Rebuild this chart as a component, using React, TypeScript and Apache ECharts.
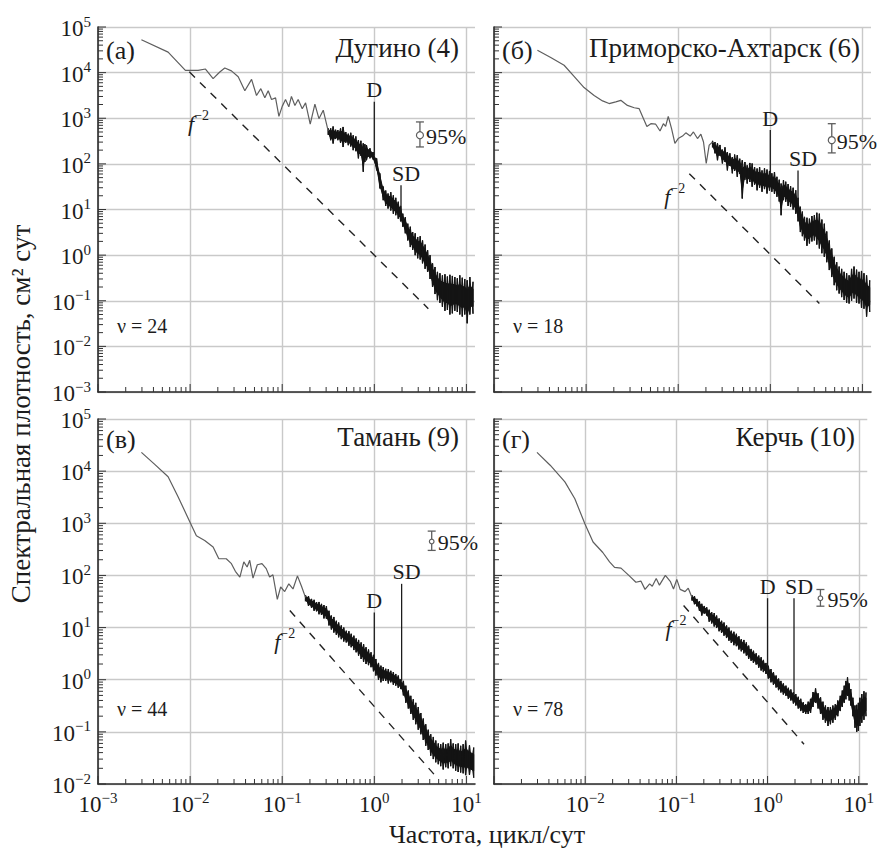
import React, { useEffect, useRef } from 'react';
import * as echarts from 'echarts';

const FONT = 'Liberation Serif, serif';
const INK = '#1c1c1c';
const LINE_GRAY = '#5e5e5e';
const GRID_GRAY = '#c9c9c9';
const BAND_INK = '#141414';

const X_MIN = 0.001;
const X_MAX = 12.4;
const Y_MAX = 1e5;
const Y_MINS = [0.001, 0.001, 0.01, 0.01];

const PANEL_LETTERS = ['(а)', '(б)', '(в)', '(г)'];
const STATIONS = ['Дугино (4)', 'Приморско-Ахтарск (6)', 'Тамань (9)', 'Керчь (10)'];
const DOF = [24, 18, 44, 78];
const PEAK_LABELS = ['D', 'SD'];
const TICK_MULTIPLIERS = [1, 2, 3, 4, 5, 6, 7, 8, 9];
const X_DECADES = [-3, -2, -1, 0, 1];
const Y_DECADES_TOP = [-3, -2, -1, 0, 1, 2, 3, 4, 5];
const Y_DECADES_BOTTOM = [-2, -1, 0, 1, 2, 3, 4, 5];

// ---- (а) Дугино ----
const dugLine = [
  [0.00296, 52500], [0.00577, 28200], [0.00889, 11200], [0.01222, 11200], [0.01469, 12000],
  [0.01778, 7400], [0.021, 10300], [0.0238, 12600], [0.0281, 10900], [0.0333, 8100],
  [0.0393, 4000], [0.0465, 7100], [0.0526, 3160], [0.0586, 4450], [0.0648, 2800],
  [0.0705, 4000], [0.0766, 2570], [0.0847, 2800], [0.0921, 1100], [0.1, 1820],
  [0.1087, 2570], [0.118, 1780], [0.126, 3020], [0.1374, 1910], [0.149, 2570],
  [0.165, 1620], [0.1794, 2170], [0.2015, 740], [0.2265, 2040], [0.2506, 980],
  [0.279, 1500], [0.316, 525],
];
const dugBand = [
  [0.316, 430, 600], [0.336, 330, 600], [0.357, 279, 661], [0.38, 350, 560], [0.402, 331, 550],
  [0.43, 290, 600], [0.458, 234, 646], [0.49, 290, 500], [0.522, 257, 459], [0.555, 240, 480],
  [0.59, 200, 423], [0.63, 190, 400], [0.672, 132, 331], [0.715, 150, 320], [0.759, 67, 282],
  [0.79, 110, 270], [0.822, 120, 257], [0.897, 132, 219], [0.97, 124, 182], [1.06, 72, 132],
  [1.15, 29, 62], [1.25, 16, 32], [1.33, 12, 26], [1.41, 10.5, 22.4], [1.51, 9.5, 24],
  [1.61, 8.1, 20.4], [1.71, 7.5, 18], [1.82, 6.3, 14.8], [1.93, 5.5, 12], [2.04, 4.2, 8.1],
  [2.17, 3.0, 6.8], [2.31, 2.1, 4.9], [2.46, 1.5, 4.2], [2.61, 1.3, 3.2], [2.78, 1.0, 3.0],
  [2.96, 0.85, 2.5], [3.15, 0.8, 2.6], [3.34, 0.66, 2.1], [3.56, 0.5, 1.7], [3.79, 0.43, 1.29],
  [4.03, 0.3, 1.0], [4.29, 0.2, 0.66], [4.56, 0.14, 0.55], [4.85, 0.103, 0.43], [5.16, 0.09, 0.4],
  [5.49, 0.074, 0.36], [5.85, 0.06, 0.38], [6.22, 0.063, 0.34], [6.62, 0.05, 0.37], [7.04, 0.053, 0.35],
  [7.49, 0.06, 0.33], [7.97, 0.057, 0.31], [8.48, 0.05, 0.36], [9.02, 0.045, 0.32], [9.6, 0.05, 0.3],
  [10.2, 0.032, 0.28], [10.9, 0.05, 0.33], [11.8, 0.052, 0.26],
];
const dugPeaks = [[1.0, 150, 2290], [1.95, 9, 34]];
const dugErr = [3.13, 235, 425, 830];
const dugRef = [[0.0098, 10400], [3.86, 0.067]];
const dugFLabel = [0.0095, 830];

// ---- (б) Приморско-Ахтарск ----
const pribLine = [
  [0.00296, 30900], [0.00413, 21400], [0.00577, 14500], [0.0074, 8300], [0.0095, 4700],
  [0.01222, 3160], [0.0151, 2400], [0.01778, 2100], [0.021, 2290], [0.0238, 2470],
  [0.0281, 1910], [0.0333, 1700], [0.0377, 1620], [0.042, 980], [0.0457, 661],
  [0.0505, 760], [0.057, 740], [0.0635, 525], [0.069, 760], [0.073, 661],
  [0.078, 1100], [0.0847, 590], [0.0921, 282], [0.1, 359], [0.1114, 407],
  [0.121, 479], [0.135, 407], [0.1464, 501], [0.162, 359], [0.1763, 447],
  [0.1883, 302], [0.2015, 102], [0.217, 257], [0.236, 302],
];
const pribBand = [
  [0.236, 230, 320], [0.251, 170, 300], [0.267, 120, 282], [0.284, 150, 260], [0.302, 102, 205],
  [0.322, 110, 230], [0.342, 72, 182], [0.364, 90, 170], [0.387, 62, 141], [0.41, 70, 160],
  [0.438, 52, 155], [0.466, 60, 130], [0.496, 17.4, 120], [0.53, 45, 110], [0.561, 37, 93],
  [0.6, 40, 105], [0.635, 31.6, 102], [0.675, 35, 85], [0.719, 26.3, 79], [0.765, 30, 85],
  [0.813, 24.5, 72], [0.865, 28, 80], [0.921, 22.4, 75], [0.98, 26, 70], [1.04, 24.5, 62],
  [1.11, 22, 66], [1.18, 19, 52], [1.25, 15, 45], [1.31, 7.5, 37], [1.39, 16, 44],
  [1.47, 14.8, 40.7], [1.56, 12, 36], [1.66, 11.5, 32.4], [1.77, 10, 30], [1.89, 8.1, 26.3],
  [2.0, 5.5, 18], [2.12, 3.2, 11.5], [2.23, 2.6, 9], [2.35, 2.1, 6.9], [2.5, 1.6, 6.6],
  [2.66, 1.8, 6.3], [2.83, 2.0, 7.2], [3.01, 2.1, 7.5], [3.2, 1.7, 8.5], [3.41, 1.4, 8.1],
  [3.63, 1.1, 6.0], [3.86, 0.92, 4.9], [4.1, 0.7, 3.3], [4.37, 0.47, 2.1], [4.65, 0.33, 1.4],
  [4.94, 0.22, 0.92], [5.26, 0.17, 0.7], [5.59, 0.144, 0.56], [5.95, 0.12, 0.5], [6.33, 0.104, 0.43],
  [6.74, 0.09, 0.4], [7.17, 0.087, 0.36], [7.63, 0.1, 0.5], [8.11, 0.112, 0.56], [8.64, 0.09, 0.48],
  [9.19, 0.087, 0.43], [9.78, 0.07, 0.45], [10.4, 0.067, 0.4], [11.1, 0.045, 0.36], [12.0, 0.057, 0.28],
];
const pribPeaks = [[1.0, 50, 550], [2.0, 14, 72]];
const pribErr = [4.65, 174, 331, 760];
const pribRef = [[0.132, 61], [3.41, 0.087]];
const pribFLabel = [0.0705, 21];

// ---- (в) Тамань ----
const tamLine = [
  [0.00296, 22900], [0.00413, 13500], [0.00577, 7800], [0.0074, 3240], [0.00992, 1070],
  [0.0117, 575], [0.0144, 468], [0.01778, 351], [0.0205, 209], [0.0247, 209],
  [0.0281, 168], [0.031, 120], [0.0347, 93], [0.0383, 182], [0.0416, 145],
  [0.0444, 195], [0.0482, 89], [0.0537, 160], [0.0603, 168], [0.0671, 135],
  [0.073, 93], [0.0793, 103], [0.0885, 34.7], [0.0962, 60], [0.1065, 49],
  [0.118, 69], [0.131, 55], [0.1464, 98], [0.162, 62], [0.179, 38],
];
const tamBand = [
  [0.179, 32, 42], [0.193, 26, 40], [0.208, 24, 35.5], [0.222, 21, 34], [0.236, 20.5, 30.9],
  [0.251, 18, 31], [0.267, 17.5, 28.5], [0.284, 15, 27], [0.302, 14.8, 25.7], [0.322, 11, 21],
  [0.342, 9.2, 17], [0.364, 8, 16], [0.387, 7.3, 13.5], [0.41, 6.5, 12.5], [0.438, 6.0, 11],
  [0.466, 5.4, 10], [0.496, 5.2, 8.7], [0.53, 4.5, 8.5], [0.561, 4.2, 7.6], [0.6, 3.7, 7],
  [0.635, 3.35, 6.2], [0.675, 2.9, 5.8], [0.719, 2.5, 5.2], [0.765, 2.2, 4.8], [0.813, 2.0, 4.2],
  [0.865, 1.9, 3.8], [0.921, 1.74, 3.35], [0.98, 1.45, 3.0], [1.04, 1.2, 2.5], [1.11, 1.0, 2.1],
  [1.18, 0.89, 1.86], [1.25, 0.95, 1.75], [1.33, 0.95, 1.62], [1.42, 0.85, 1.6], [1.51, 0.89, 1.48],
  [1.61, 0.8, 1.4], [1.71, 0.77, 1.29], [1.82, 0.7, 1.2], [1.94, 0.66, 1.02], [2.07, 0.5, 0.95],
  [2.2, 0.36, 0.77], [2.34, 0.28, 0.62], [2.49, 0.22, 0.49], [2.65, 0.17, 0.42], [2.82, 0.14, 0.36],
  [3.0, 0.11, 0.3], [3.2, 0.09, 0.23], [3.4, 0.07, 0.18], [3.62, 0.054, 0.14], [3.85, 0.045, 0.11],
  [4.1, 0.035, 0.09], [4.37, 0.03, 0.08], [4.65, 0.026, 0.068], [4.95, 0.024, 0.06], [5.26, 0.022, 0.058],
  [5.6, 0.019, 0.062], [5.96, 0.021, 0.058], [6.34, 0.02, 0.06], [6.75, 0.022, 0.072], [7.19, 0.02, 0.06],
  [7.65, 0.018, 0.058], [8.14, 0.017, 0.06], [8.66, 0.0166, 0.054], [9.22, 0.016, 0.058], [9.8, 0.0148, 0.068],
  [10.8, 0.015, 0.055], [12.0, 0.0132, 0.05],
];
const tamPeaks = [[1.0, 2.0, 19.5], [1.98, 0.95, 69]];
const tamErr = [4.2, 302, 447, 708];
const tamRef = [[0.121, 21.2], [4.97, 0.0123]];
const tamFLabel = [0.0818, 5.8];

// ---- (г) Керчь ----
const kerLine = [
  [0.00296, 22900], [0.00413, 13000], [0.00599, 6240], [0.0077, 2950], [0.00992, 977],
  [0.0122, 437], [0.0156, 275], [0.0185, 182], [0.021, 143], [0.0247, 138],
  [0.0305, 98], [0.036, 74], [0.0408, 78], [0.0453, 54], [0.0509, 69],
  [0.0544, 62], [0.0601, 87], [0.0652, 65], [0.0757, 100], [0.0857, 77],
  [0.093, 55], [0.1011, 84], [0.11, 54], [0.1245, 49], [0.135, 57], [0.148, 38],
];
const kerBand = [
  [0.148, 33, 42], [0.158, 28, 40], [0.168, 25.5, 35.5], [0.179, 21, 32], [0.19, 17, 28.5],
  [0.202, 18.5, 26], [0.215, 17, 24.5], [0.229, 13, 22], [0.244, 12, 19.7], [0.26, 10.5, 19],
  [0.276, 9.8, 17], [0.294, 8.5, 15], [0.313, 7.9, 13.5], [0.333, 7, 12.5], [0.355, 6.3, 11],
  [0.377, 5.6, 10], [0.4, 5.1, 8.7], [0.427, 4.6, 8.3], [0.455, 4.4, 7.6], [0.485, 3.8, 6.8],
  [0.515, 3.5, 6.0], [0.55, 3.2, 5.8], [0.585, 2.9, 5.2], [0.62, 2.5, 4.5], [0.66, 2.3, 3.9],
  [0.7, 2.1, 3.6], [0.75, 1.95, 3.2], [0.8, 1.7, 2.9], [0.85, 1.5, 2.7], [0.9, 1.4, 2.4],
  [0.96, 1.29, 2.1], [1.02, 1.05, 1.85], [1.09, 0.89, 1.6], [1.16, 0.8, 1.4], [1.24, 0.71, 1.2],
  [1.32, 0.63, 1.05], [1.4, 0.57, 0.95], [1.49, 0.52, 0.85], [1.59, 0.49, 0.77], [1.69, 0.43, 0.7],
  [1.8, 0.4, 0.65], [1.92, 0.35, 0.58], [2.04, 0.32, 0.53], [2.17, 0.28, 0.47], [2.31, 0.25, 0.43],
  [2.46, 0.23, 0.37], [2.62, 0.22, 0.34], [2.79, 0.22, 0.38], [2.96, 0.23, 0.43], [3.15, 0.3, 0.58],
  [3.36, 0.36, 0.68], [3.58, 0.28, 0.55], [3.81, 0.22, 0.46], [4.05, 0.17, 0.38], [4.31, 0.15, 0.32],
  [4.6, 0.13, 0.3], [4.89, 0.14, 0.3], [5.2, 0.15, 0.32], [5.53, 0.17, 0.34], [5.89, 0.2, 0.4],
  [6.27, 0.25, 0.49], [6.6, 0.3, 0.62], [6.93, 0.36, 0.77], [7.23, 0.42, 0.95], [7.53, 0.49, 1.11],
  [7.85, 0.4, 0.85], [8.18, 0.32, 0.66], [8.63, 0.2, 0.45], [9.1, 0.12, 0.32], [9.5, 0.1, 0.33],
  [9.9, 0.105, 0.36], [10.3, 0.13, 0.45], [10.8, 0.15, 0.53], [11.4, 0.17, 0.6], [12.0, 0.2, 0.57],
];
const kerPeaks = [[1.0, 1.3, 36.6], [1.95, 0.5, 36.6]];
const kerErr = [3.8, 25.7, 36.6, 53.7];
const kerRef = [[0.12, 26.5], [2.51, 0.058]];
const kerFLabel = [0.0759, 10.7];

// ---- layout (pixels) ----
const GRIDS = [
  { left: 98, top: 27, width: 377, height: 365 },
  { left: 494, top: 27, width: 377, height: 365 },
  { left: 98, top: 419, width: 377, height: 365 },
  { left: 494, top: 419, width: 377, height: 365 },
];
const STATION_POS = [[459, 48], [860, 48], [459, 437], [855, 437]];
const LETTER_POS = [[106, 50], [502, 50], [106, 439], [502, 439]];
const DOF_POS = [[117, 326], [513, 326], [117, 709], [513, 709]];
const ERR_CIRCLE_R = [3.5, 3.5, 2.3, 2.3];
const ERR_TEXT_DX = [6, 5, 6, 7];
const PEAK_LABEL_DX = [0, 5];
const BAND_CORE = 0.55;

const PANELS = [
  { line: dugLine, band: dugBand, peaks: dugPeaks, err: dugErr, ref: dugRef, fPos: dugFLabel },
  { line: pribLine, band: pribBand, peaks: pribPeaks, err: pribErr, ref: pribRef, fPos: pribFLabel },
  { line: tamLine, band: tamBand, peaks: tamPeaks, err: tamErr, ref: tamRef, fPos: tamFLabel },
  { line: kerLine, band: kerBand, peaks: kerPeaks, err: kerErr, ref: kerRef, fPos: kerFLabel },
];

const POW_RICH = {
  b: { fontFamily: FONT, fontSize: 23, color: INK, lineHeight: 26, verticalAlign: 'bottom' },
  s: { fontFamily: FONT, fontSize: 15, color: INK, lineHeight: 15, verticalAlign: 'top' },
};

function powLabel(v: number) {
  const e = Math.round(Math.log10(v));
  const s = e < 0 ? '\u2212' + Math.abs(e) : String(e);
  return `{b|10}{s|${s}}`;
}

function tickSeries(i: number) {
  const yMin = Y_MINS[i];
  const items: { v: number; kind: number; major: boolean }[] = [];
  X_DECADES.forEach((d) =>
    TICK_MULTIPLIERS.forEach((m) => {
      const v = m * Math.pow(10, d);
      if (v <= X_MAX) items.push({ v, kind: 0, major: m === 1 });
    })
  );
  const yDec = i < 2 ? Y_DECADES_TOP : Y_DECADES_BOTTOM;
  yDec.forEach((d) =>
    TICK_MULTIPLIERS.forEach((m) => {
      const v = m * Math.pow(10, d);
      if (v <= Y_MAX && v >= yMin) items.push({ v, kind: 1, major: m === 1 });
    })
  );
  return {
    type: 'custom',
    xAxisIndex: i,
    yAxisIndex: i,
    silent: true,
    z: 10,
    data: items.map((t) => [t.kind === 0 ? t.v : X_MIN, t.kind === 1 ? t.v : yMin]),
    renderItem: (params: any, api: any) => {
      const t = items[params.dataIndex];
      const len = t.major ? 8 : 5;
      if (t.kind === 0) {
        const p = api.coord([t.v, yMin]);
        return { type: 'line', shape: { x1: p[0], y1: p[1], x2: p[0], y2: p[1] - len }, style: { stroke: '#333', lineWidth: 1 } };
      }
      const p = api.coord([X_MIN, t.v]);
      return { type: 'line', shape: { x1: p[0], y1: p[1], x2: p[0] + len, y2: p[1] }, style: { stroke: '#333', lineWidth: 1 } };
    },
  };
}

// noisy band: solid core between the read envelopes, with vertical hairs out to the
// upper/lower envelope readings and a zig-zag trace between them
function bandSeries(i: number, band: number[][]) {
  return {
    type: 'custom',
    xAxisIndex: i,
    yAxisIndex: i,
    silent: true,
    z: 3,
    data: band.map((b) => [b[0], b[2]]),
    renderItem: (params: any, api: any) => {
      if (params.dataIndex !== 0) return null;
      const up = band.map((b) => api.coord([b[0], b[2]]));
      const lo = band.map((b) => api.coord([b[0], b[1]]));
      const coreUp = up.map((p, k) => {
        const c = (p[1] + lo[k][1]) / 2;
        return [p[0], c - (c - p[1]) * BAND_CORE];
      });
      const coreLo = lo.map((p, k) => {
        const c = (up[k][1] + p[1]) / 2;
        return [p[0], c + (p[1] - c) * BAND_CORE];
      });
      const children: any[] = [
        {
          type: 'polygon',
          shape: { points: coreUp.concat(coreLo.slice().reverse()) },
          style: { fill: BAND_INK, stroke: BAND_INK, lineWidth: 1 },
        },
        {
          type: 'polyline',
          shape: { points: band.map((b, k) => (k % 2 === 0 ? up[k] : lo[k])) },
          style: { stroke: BAND_INK, lineWidth: 1, fill: null },
        },
        {
          type: 'polyline',
          shape: { points: band.map((b, k) => (k % 2 === 1 ? up[k] : lo[k])) },
          style: { stroke: BAND_INK, lineWidth: 1, fill: null },
        },
      ];
      up.forEach((p, k) => {
        children.push({
          type: 'line',
          shape: { x1: p[0], y1: p[1], x2: lo[k][0], y2: lo[k][1] },
          style: { stroke: BAND_INK, lineWidth: 1.3 },
        });
      });
      return { type: 'group', children };
    },
  };
}

function peakSeries(i: number, peaks: number[][]) {
  return {
    type: 'custom',
    xAxisIndex: i,
    yAxisIndex: i,
    silent: true,
    z: 4,
    data: peaks.map((p) => [p[0], p[2]]),
    renderItem: (params: any, api: any) => {
      const k = params.dataIndex;
      const p = peaks[k];
      const a = api.coord([p[0], p[1]]);
      const b = api.coord([p[0], p[2]]);
      return {
        type: 'group',
        children: [
          { type: 'line', shape: { x1: a[0], y1: a[1], x2: b[0], y2: b[1] }, style: { stroke: INK, lineWidth: 1.3 } },
          {
            type: 'text',
            x: b[0] + PEAK_LABEL_DX[k],
            y: b[1] - 1,
            style: { text: PEAK_LABELS[k], font: `22px ${FONT}`, fill: INK, textAlign: 'center', textVerticalAlign: 'bottom' },
          },
        ],
      };
    },
  };
}

function errSeries(i: number, err: number[]) {
  return {
    type: 'custom',
    xAxisIndex: i,
    yAxisIndex: i,
    silent: true,
    z: 4,
    data: [[err[0], err[2]]],
    renderItem: (params: any, api: any) => {
      const lo = api.coord([err[0], err[1]]);
      const mid = api.coord([err[0], err[2]]);
      const hi = api.coord([err[0], err[3]]);
      const st = { stroke: LINE_GRAY, lineWidth: 1.3 };
      return {
        type: 'group',
        children: [
          { type: 'line', shape: { x1: lo[0], y1: lo[1], x2: hi[0], y2: hi[1] }, style: st },
          { type: 'line', shape: { x1: lo[0] - 4, y1: lo[1], x2: lo[0] + 4, y2: lo[1] }, style: st },
          { type: 'line', shape: { x1: hi[0] - 4, y1: hi[1], x2: hi[0] + 4, y2: hi[1] }, style: st },
          { type: 'circle', shape: { cx: mid[0], cy: mid[1], r: ERR_CIRCLE_R[i] }, style: { fill: '#fff', stroke: LINE_GRAY, lineWidth: 1.2 } },
          {
            type: 'text',
            x: mid[0] + ERR_TEXT_DX[i],
            y: mid[1] + 1,
            style: { text: '95%', font: `22px ${FONT}`, fill: INK, textAlign: 'left', textVerticalAlign: 'middle' },
          },
        ],
      };
    },
  };
}

function fLabelSeries(i: number, pos: number[]) {
  return {
    type: 'custom',
    xAxisIndex: i,
    yAxisIndex: i,
    silent: true,
    z: 4,
    data: [pos],
    renderItem: (params: any, api: any) => {
      const p = api.coord(pos);
      return {
        type: 'text',
        x: p[0],
        y: p[1],
        style: {
          text: '{i|f}{s|\u22122}',
          textAlign: 'left',
          textVerticalAlign: 'middle',
          fill: INK,
          rich: {
            i: { fontFamily: FONT, fontSize: 22, fontStyle: 'italic', lineHeight: 26, verticalAlign: 'bottom', fill: INK },
            s: { fontFamily: FONT, fontSize: 14, lineHeight: 14, verticalAlign: 'top', fill: INK },
          },
        },
      };
    },
  };
}

function buildOption() {
  const series: any[] = [];
  PANELS.forEach((p, i) => {
    series.push(tickSeries(i));
    series.push({
      type: 'line',
      xAxisIndex: i,
      yAxisIndex: i,
      data: p.line,
      symbol: 'none',
      silent: true,
      z: 3,
      lineStyle: { color: LINE_GRAY, width: 1.2 },
    });
    series.push(bandSeries(i, p.band));
    series.push(peakSeries(i, p.peaks));
    series.push({
      type: 'line',
      xAxisIndex: i,
      yAxisIndex: i,
      data: p.ref,
      symbol: 'none',
      silent: true,
      z: 2,
      lineStyle: { color: '#222', width: 1.4, type: [8, 7] },
    });
    series.push(errSeries(i, p.err));
    series.push(fLabelSeries(i, p.fPos));
  });

  const graphic: any[] = [];
  PANEL_LETTERS.forEach((t, i) =>
    graphic.push({
      type: 'text',
      x: LETTER_POS[i][0],
      y: LETTER_POS[i][1],
      z: 20,
      style: { text: t, font: `26px ${FONT}`, fill: INK, textAlign: 'left', textVerticalAlign: 'middle' },
    })
  );
  STATIONS.forEach((t, i) =>
    graphic.push({
      type: 'text',
      x: STATION_POS[i][0],
      y: STATION_POS[i][1],
      z: 20,
      style: { text: t, font: `27px ${FONT}`, fill: INK, textAlign: 'right', textVerticalAlign: 'middle' },
    })
  );
  DOF.forEach((n, i) =>
    graphic.push({
      type: 'text',
      x: DOF_POS[i][0],
      y: DOF_POS[i][1],
      z: 20,
      style: { text: `\u03bd = ${n}`, font: `20px ${FONT}`, fill: INK, textAlign: 'left', textVerticalAlign: 'middle' },
    })
  );
  graphic.push({
    type: 'text',
    x: 21,
    y: 414,
    rotation: Math.PI / 2,
    z: 20,
    style: { text: 'Спектральная плотность, см\u00b2 сут', font: `27px ${FONT}`, fill: INK, textAlign: 'center', textVerticalAlign: 'middle' },
  });
  graphic.push({
    type: 'text',
    x: 487,
    y: 834,
    z: 20,
    style: { text: 'Частота, цикл/сут', font: `26px ${FONT}`, fill: INK, textAlign: 'center', textVerticalAlign: 'middle' },
  });

  return {
    animation: false,
    backgroundColor: '#fff',
    grid: GRIDS.map((g) => ({ ...g, containLabel: false })),
    xAxis: GRIDS.map((g, i) => ({
      type: 'log',
      logBase: 10,
      gridIndex: i,
      min: X_MIN,
      max: X_MAX,
      axisLine: { show: true, onZero: false, lineStyle: { color: '#2a2a2a', width: 1.6 } },
      axisTick: { show: false },
      splitLine: { show: true, showMaxLine: false, lineStyle: { color: GRID_GRAY, width: 1.4 } },
      axisLabel: {
        show: i >= 2,
        showMinLabel: i === 2,
        showMaxLabel: false,
        margin: 6,
        formatter: powLabel,
        rich: POW_RICH,
      },
    })),
    yAxis: GRIDS.map((g, i) => ({
      type: 'log',
      logBase: 10,
      gridIndex: i,
      min: Y_MINS[i],
      max: Y_MAX,
      axisLine: { show: true, onZero: false, lineStyle: { color: '#2a2a2a', width: 1.6 } },
      axisTick: { show: false },
      splitLine: { show: true, lineStyle: { color: GRID_GRAY, width: 1.4 } },
      axisLabel: {
        show: i % 2 === 0,
        margin: 7,
        formatter: powLabel,
        rich: POW_RICH,
      },
    })),
    series,
    graphic,
  };
}

export default function App() {
  const ref = useRef<HTMLDivElement>(null);
  useEffect(() => {
    document.body.style.margin = '0';
    const chart = echarts.init(ref.current as HTMLDivElement, null, { renderer: 'svg' });
    chart.setOption(buildOption() as any);
    return () => chart.dispose();
  }, []);
  return <div ref={ref} style={{ width: 877, height: 848 }} />;
}
